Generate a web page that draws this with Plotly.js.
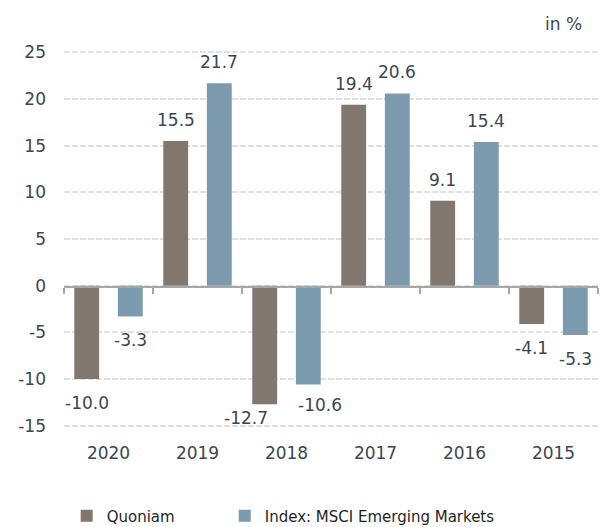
<!DOCTYPE html>
<html>
<head>
<meta charset="utf-8">
<script src="https://cdn.plot.ly/plotly-3.0.1.min.js"></script>
<style>html,body{margin:0;padding:0;background:#fff;}#chart{width:602px;height:527px;}</style>
</head>
<body>
<div id="chart"></div>
<script>
// ---- data ----
const years = ["2020", "2019", "2018", "2017", "2016", "2015"];
const quoniam = [-10.0, 15.5, -12.7, 19.4, 9.1, -4.1];
const msciEM = [-3.3, 21.7, -10.6, 20.6, 15.4, -5.3];
const seriesNames = ["Quoniam", "Index: MSCI Emerging Markets"];
const yTicks = [-15, -10, -5, 0, 5, 10, 15, 20, 25];

// ---- style ----
const colors = ["#81776e", "#7b9aae"];
const textColor = "#3b4651";
const font = "DejaVu Sans, Verdana, sans-serif";
const groupOffset = 21.8; // px half-distance between bars in a group
// per-label manual nudges (px), like in the original
const nudges = {
  "0-2018": {dx: -19, dy: 10},
  "1-2018": {dx: 12, dy: 4}
};

const series = [quoniam, msciEM];
const traces = series.map((vals, i) => ({
  type: "bar",
  name: seriesNames[i],
  x: years,
  y: vals,
  xaxis: "x",
  yaxis: "y",
  legend: i === 0 ? "legend" : "legend2",
  marker: {color: colors[i]},
  hoverinfo: "x+y+name"
}));
// invisible helper trace so the zero-baseline axis (x2) is drawn
traces.push({
  type: "scatter", mode: "lines",
  x: [-0.5, 5.5], y: [0, 0],
  xaxis: "x2", yaxis: "y",
  line: {color: "rgba(0,0,0,0)", width: 0},
  showlegend: false, hoverinfo: "skip"
});

const annotations = [];
series.forEach((vals, i) => {
  vals.forEach((v, j) => {
    const n = nudges[i + "-" + years[j]] || {dx: 0, dy: 0};
    annotations.push({
      xref: "x", yref: "y", x: j, y: v,
      text: v.toFixed(1),
      showarrow: false,
      xanchor: "center", yanchor: "middle",
      xshift: (i === 0 ? -groupOffset : groupOffset) + n.dx,
      yshift: (v >= 0 ? 21 : -24) + n.dy,
      font: {family: font, size: 17, color: textColor}
    });
  });
});
annotations.push({
  xref: "paper", yref: "paper", x: 1, y: 1.072, xanchor: "right", yanchor: "middle",
  text: "in %", showarrow: false, xshift: -14,
  font: {family: font, size: 17, color: textColor}
});

const legendFont = {family: font, size: 15, color: "#1f1f1f"};
const layout = {
  width: 602, height: 527,
  margin: {l: 64, r: 4, t: 51, b: 100, autoexpand: false},
  paper_bgcolor: "#ffffff", plot_bgcolor: "#ffffff",
  barmode: "group",
  bargap: 0.02,
  bargroupgap: 0.43,
  font: {family: font, size: 17, color: textColor},
  showlegend: true,
  legend: {
    orientation: "h",
    x: 0.005, xanchor: "left",
    y: -0.237, yanchor: "middle",
    font: legendFont
  },
  legend2: {
    orientation: "h",
    x: 0.301, xanchor: "left",
    y: -0.237, yanchor: "middle",
    font: legendFont
  },
  xaxis: {
    type: "category",
    categoryorder: "array",
    categoryarray: years,
    range: [-0.5, 5.5],
    autorange: false,
    showgrid: false, zeroline: false, showline: false,
    ticks: "",
    ticklabelstandoff: 14,
    tickfont: {family: font, size: 17, color: textColor},
    fixedrange: true
  },
  xaxis2: {
    type: "linear",
    overlaying: "x",
    anchor: "free",
    position: 0.3722,
    side: "bottom",
    range: [-0.5, 5.5],
    autorange: false,
    tickmode: "array",
    tickvals: [-0.5, 0.5, 1.5, 2.5, 3.5, 4.5, 5.5],
    ticks: "outside", ticklen: 6, tickwidth: 1.5, tickcolor: "#a6a6a6",
    showline: true, linecolor: "#a6a6a6", linewidth: 2,
    showticklabels: false, showgrid: false, zeroline: false,
    fixedrange: true
  },
  yaxis: {
    range: [-15.15, 25.15],
    autorange: false,
    tickmode: "array",
    tickvals: yTicks,
    ticktext: yTicks.map(String),
    showgrid: true, gridcolor: "#e1e1e1", gridwidth: 2, griddash: "6px,2px",
    zeroline: false, showline: false,
    ticks: "",
    ticklabelstandoff: 17,
    tickfont: {family: font, size: 17, color: textColor},
    fixedrange: true
  },
  annotations: annotations
};

Plotly.newPlot("chart", traces, layout, {displayModeBar: false, staticPlot: true});
</script>
</body>
</html>
